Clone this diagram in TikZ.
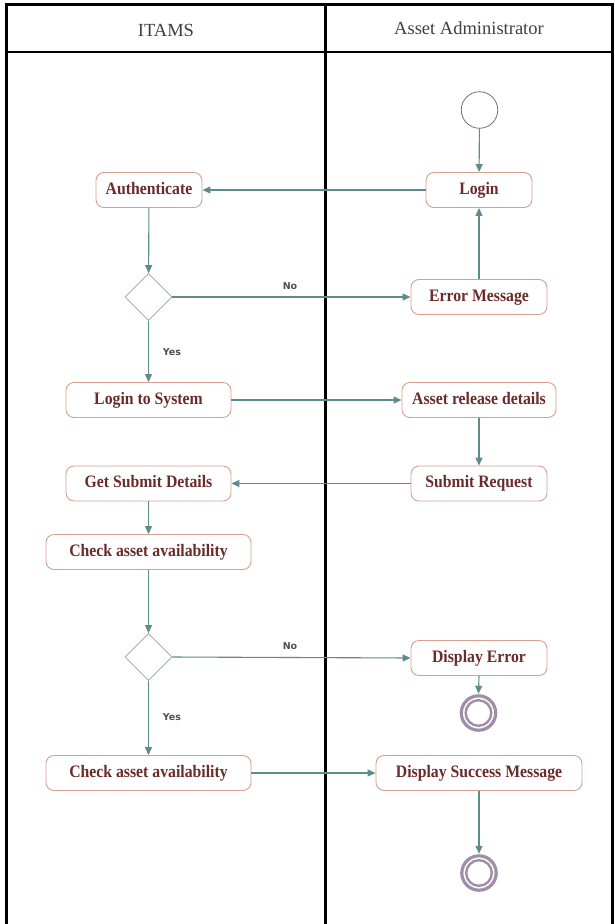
\documentclass[tikz,border=0pt]{standalone}
\usepackage{fontspec}
\setmainfont{Liberation Serif}
\newfontfamily\boxfont[FakeStretch=0.9]{Liberation Serif}
\newfontfamily\lblfont{DejaVu Sans}
\usetikzlibrary{arrows.meta,shapes.geometric}
\definecolor{boxline}{HTML}{D9A08E}
\definecolor{boxtext}{HTML}{6A2C2A}
\definecolor{arrowc}{HTML}{5E8C8C}
\definecolor{diamc}{HTML}{92A4A4}
\definecolor{endc}{HTML}{A08EA8}
\definecolor{lblc}{HTML}{505050}
\begin{document}
\begin{tikzpicture}[x=1pt,y=-1pt,
  act/.style={draw=boxline, line width=0.9pt, rounded corners=8pt, fill=white,
    minimum height=35pt, inner xsep=6pt, text=boxtext, text height=11.5pt, text depth=3.5pt,
    font=\boxfont\bfseries\fontsize{17.5}{20}\selectfont},
  decision/.style={diamond, draw=diamc, line width=0.8pt, fill=white,
    minimum width=47pt, minimum height=47pt, inner sep=0pt},
  flow/.style={draw=arrowc, line width=1.1pt, -{Triangle[length=8pt,width=7pt]}},
  lbl/.style={text=lblc, font=\lblfont\bfseries\fontsize{9.5}{11}\selectfont},
  lane/.style={line width=2.6pt, black},
  hdr/.style={font=\fontsize{18.5}{20}\selectfont, text=black!75}]
\useasboundingbox (0,0) rectangle (614,924);
\fill[white] (0,0) rectangle (614,924);
% swimlanes
\draw[lane] (6.7,930) -- (6.7,4.3) -- (612.7,4.3) -- (612.7,930);
\draw[lane] (325.5,4.3) -- (325.5,930);
\draw[line width=2.2pt] (6.7,52) -- (612.7,52);
\node[hdr] (h1) at (166,30) {ITAMS};
\node[hdr] (h2) at (469,28) {Asset Administrator};
% nodes
\node[circle, draw=black!55, line width=0.8pt, minimum size=36.5pt, inner sep=0pt] (start) at (479.5,110) {};
\node[act, minimum width=106pt] (login) at (479,190) {Login};
\node[act, minimum width=106pt] (auth) at (149,190) {Authenticate};
\node[decision] (d1) at (148.5,297) {};
\node[act, minimum width=136pt] (err) at (479,297) {Error Message};
\node[act, minimum width=165pt] (lts) at (148.5,400) {Login to System};
\node[act, minimum width=154pt] (ard) at (479,400) {Asset release details};
\node[act, minimum width=165pt] (gsd) at (148.5,483.5) {Get Submit Details};
\node[act, minimum width=136pt] (sr) at (479,483.5) {Submit Request};
\node[act, minimum width=205pt] (cav1) at (148.5,552) {Check asset availability};
\node[decision] (d2) at (148.5,657) {};
\node[act, minimum width=136pt] (de) at (479,658) {Display Error};
\node[act, minimum width=205pt] (cav2) at (148.5,773) {Check asset availability};
\node[act, minimum width=206pt] (dsm) at (479,773) {Display Success Message};
% end nodes
\node[circle, minimum size=38pt, inner sep=0pt] (end1) at (478.5,713) {};
\draw[endc, line width=3.2pt] (end1.center) circle (17.2pt);
\draw[endc, line width=2.4pt] (end1.center) circle (12.8pt);
\node[circle, minimum size=38pt, inner sep=0pt] (end2) at (479,873) {};
\draw[endc, line width=3.2pt] (end2.center) circle (17.2pt);
\draw[endc, line width=2.4pt] (end2.center) circle (12.8pt);
% connectors
\draw[flow] (start) -- (login);
\draw[flow] (login) -- (auth);
\draw[flow] (auth) -- (d1);
\draw[flow] (d1.east) -- (err.west);
\draw[flow] (err) -- (login);
\draw[flow] (d1.south) -- (lts.north);
\draw[flow] (lts) -- (ard);
\draw[flow] (ard) -- (sr);
\draw[flow] (sr) -- (gsd);
\draw[flow] (gsd) -- (cav1);
\draw[flow] (cav1) -- (d2);
\draw[flow] (d2.east) -- (de.west);
\draw[flow] (de.south) -- (end1.north);
\draw[flow] (d2.south) -- (cav2.north);
\draw[flow] (cav2) -- (dsm);
\draw[flow] (dsm.south) -- (end2.north);
% labels
\node[lbl] (no1) at (290,286) {No};
\node[lbl] (yes1) at (172,352) {Yes};
\node[lbl] (no2) at (290,646) {No};
\node[lbl] (yes2) at (172,717) {Yes};
\end{tikzpicture}
\end{document}
